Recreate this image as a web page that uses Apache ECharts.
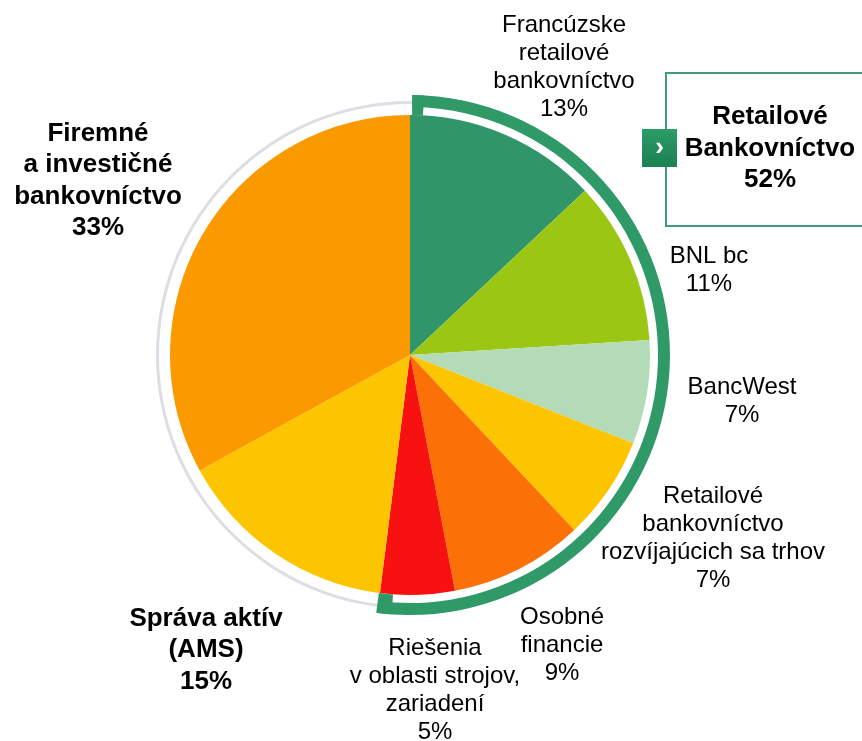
<!DOCTYPE html>
<html>
<head>
<meta charset="utf-8">
<script src="https://cdn.jsdelivr.net/npm/echarts@6/dist/echarts.min.js"></script>
<style>
  html, body { margin: 0; padding: 0; background: #fff; }
  #myChart { width: 862px; height: 741px; }
</style>
</head>
<body>
<div id="myChart"></div>
<script>
// segment names (clockwise from 12 o'clock)
var names = [
  'Francúzske\nretailové\nbankovníctvo',
  'BNL bc',
  'BancWest',
  'Retailové\nbankovníctvo\nrozvíjajúcich sa trhov',
  'Osobné\nfinancie',
  'Riešenia\nv oblasti strojov,\nzariadení',
  'Správa aktív\n(AMS)',
  'Firemné\na investičné\nbankovníctvo'
];
// share in %
var values = [13, 11, 7, 7, 9, 5, 15, 33];
// first 6 segments belong to retail banking
var retailCount = 6;
var retailTitle = 'Retailové\nBankovníctvo';

var colors = ['#31956a', '#9bc714', '#b4dbb7', '#fdc400', '#fc7008', '#f81111', '#fdc400', '#fb9a00'];
// label centers in px
var labelPos = [[564, 67], [709, 270], [742, 401], [713, 538], [562, 645], [435, 690], [206, 650], [98, 181]];
var boldIdx = [6, 7];

var cx = 410, cy = 355, R = 240;
var font = '"Liberation Sans", Arial, sans-serif';
var ringGreen = '#2f9a68';

var retailSum = 0;
for (var i = 0; i < retailCount; i++) retailSum += values[i];

var pieData = names.map(function (n, i) {
  var bold = boldIdx.indexOf(i) >= 0;
  return {
    name: n,
    value: values[i],
    itemStyle: { color: colors[i] },
    label: bold ? { fontWeight: 'bold', fontSize: 26, lineHeight: 31.5 } : {}
  };
});

var retailDeg = retailSum / 100 * 360;
var capA = 2.6, capB = 3.4, start = 0.5;

var myChart = echarts.init(document.getElementById('myChart'));
myChart.setOption({
  animation: false,
  series: [
    {
      // thin grey ring around whole pie
      type: 'pie', silent: true, z: 1,
      center: [cx, cy], radius: [R + 11, R + 14],
      label: { show: false }, labelLine: { show: false },
      itemStyle: { borderWidth: 0 },
      data: [{ value: 1, itemStyle: { color: '#dcdee4' } }]
    },
    {
      // green bracket arc around retail segments
      type: 'pie', silent: true, z: 2,
      center: [cx, cy], radius: [R + 8, R + 20],
      startAngle: 90 - start, clockwise: true,
      label: { show: false }, labelLine: { show: false },
      itemStyle: { borderWidth: 0 },
      data: [
        { value: retailDeg - start, itemStyle: { color: ringGreen } },
        { value: 360 - retailDeg + start, itemStyle: { color: 'rgba(0,0,0,0)' } }
      ]
    },
    {
      // bracket end caps
      type: 'pie', silent: true, z: 2,
      center: [cx, cy], radius: [R, R + 20],
      startAngle: 90 - start, clockwise: true,
      label: { show: false }, labelLine: { show: false },
      itemStyle: { borderWidth: 0 },
      data: [
        { value: capA, itemStyle: { color: ringGreen } },
        { value: retailDeg - start - capA - capB, itemStyle: { color: 'rgba(0,0,0,0)' } },
        { value: capB, itemStyle: { color: ringGreen } },
        { value: 360 - retailDeg, itemStyle: { color: 'rgba(0,0,0,0)' } }
      ]
    },
    {
      type: 'pie', z: 3,
      center: [cx, cy], radius: [0, R],
      startAngle: 90, clockwise: true,
      avoidLabelOverlap: false,
      itemStyle: { borderWidth: 0 },
      emphasis: { disabled: true },
      label: {
        show: true,
        position: 'outside',
        formatter: function (p) { return p.name + '\n' + p.value + '%'; },
        color: '#000',
        fontFamily: font,
        fontSize: 24,
        lineHeight: 28,
        align: 'center'
      },
      labelLine: { show: false },
      labelLayout: function (p) {
        var pos = labelPos[p.dataIndex];
        return { x: pos[0], y: pos[1], align: 'center', verticalAlign: 'middle' };
      },
      data: pieData
    }
  ],
  graphic: [
    {
      type: 'rect', z: 10,
      shape: { x: 666, y: 73, width: 220, height: 153 },
      style: { fill: 'none', stroke: '#3f9c7a', lineWidth: 2 }
    },
    {
      type: 'rect', z: 11,
      shape: { x: 642, y: 129, width: 35, height: 38 },
      style: {
        fill: new echarts.graphic.LinearGradient(0, 0, 0, 1, [
          { offset: 0, color: '#2c9d68' },
          { offset: 1, color: '#1b8052' }
        ])
      }
    },
    {
      type: 'text', z: 12,
      x: 659.5, y: 148,
      style: {
        text: '›', fill: '#fff', font: 'bold 26px ' + font,
        align: 'center', verticalAlign: 'middle'
      }
    },
    {
      type: 'text', z: 12,
      x: 770, y: 148.5,
      style: {
        text: retailTitle + '\n' + retailSum + '%',
        fill: '#000', font: 'bold 26px ' + font, lineHeight: 31.5,
        align: 'center', verticalAlign: 'middle'
      }
    }
  ]
});
</script>
</body>
</html>
